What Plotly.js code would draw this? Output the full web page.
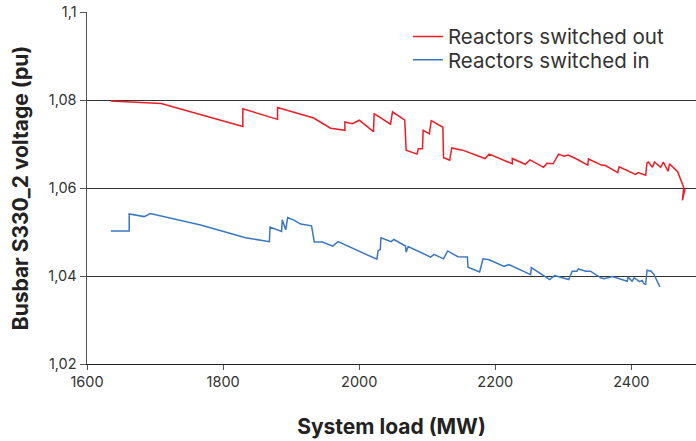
<!DOCTYPE html>
<html>
<head>
<meta charset="utf-8">
<script src="https://cdn.plot.ly/plotly-3.0.1.min.js"></script>
<style>html,body{margin:0;padding:0;background:#fff;}#chart{width:696px;height:441px;}</style>
</head>
<body>
<div id="chart"></div>
<script>
const outLoad = [1635,1709,1829,1829,1880,1880,1933,1958,1979,1979,1990,2000,2021,2022,2046,2049,2067,2069,2085,2087,2093,2094,2103,2106,2123,2124,2133,2136,2152,2185,2191,2225,2225,2244,2251,2271,2276,2285,2293,2301,2307,2318,2336,2337,2356,2362,2380,2382,2406,2410,2421,2423,2425,2431,2434,2443,2447,2454,2456,2468,2477,2475,2479];
const outVolt = [1.0798,1.0792,1.0740,1.0780,1.0756,1.0783,1.0759,1.0736,1.0731,1.0750,1.0746,1.0754,1.0728,1.0769,1.0745,1.0773,1.0754,1.0686,1.0677,1.0689,1.0689,1.0731,1.0723,1.0753,1.0738,1.0669,1.0663,1.0691,1.0686,1.0667,1.0677,1.0655,1.0667,1.0654,1.0664,1.0647,1.0656,1.0655,1.0677,1.0672,1.0675,1.0667,1.0652,1.0666,1.0652,1.0651,1.0635,1.0648,1.0631,1.0635,1.0629,1.0657,1.0659,1.0647,1.0659,1.0647,1.0659,1.0638,1.0655,1.0637,1.0601,1.0572,1.0599];
const inLoad = [1635,1662,1662,1684,1693,1719,1767,1833,1851,1868,1869,1886,1887,1892,1895,1904,1914,1930,1934,1946,1961,1969,2026,2028,2031,2032,2047,2051,2068,2069,2072,2105,2110,2124,2130,2145,2159,2160,2177,2182,2191,2213,2220,2237,2252,2253,2280,2287,2308,2313,2320,2322,2333,2340,2355,2360,2372,2394,2395,2401,2404,2412,2416,2418,2421,2423,2429,2433,2442];
const inVolt = [1.0502,1.0502,1.0541,1.0535,1.0542,1.0533,1.0516,1.0487,1.0482,1.0478,1.0511,1.0501,1.0528,1.0505,1.0533,1.0527,1.0518,1.0514,1.0477,1.0477,1.0468,1.0478,1.0438,1.0458,1.0460,1.0487,1.0478,1.0483,1.0468,1.0454,1.0467,1.0443,1.0449,1.0439,1.0457,1.0444,1.0443,1.0420,1.0409,1.0439,1.0437,1.0422,1.0426,1.0414,1.0403,1.0419,1.0392,1.0401,1.0392,1.0411,1.0411,1.0416,1.0411,1.0411,1.0396,1.0394,1.0399,1.0388,1.0398,1.0388,1.0396,1.0387,1.0390,1.0383,1.0381,1.0413,1.0411,1.0404,1.0375];
const seriesNames = ['Reactors switched out', 'Reactors switched in'];
const yTickVals = [1.02, 1.04, 1.06, 1.08, 1.1];
const yTickText = ['1,02', '1,04', '1,06', '1,08', '1,1'];
const xTickVals = [1600, 1800, 2000, 2200, 2400];
const xTickText = ['1600', '1800', '2000', '2200', '2400'];

const traces = [
  {x: outLoad, y: outVolt, name: seriesNames[0], type: 'scatter', mode: 'lines',
   line: {color: '#ee1c25', width: 1.5}, legend: 'legend'},
  {x: inLoad, y: inVolt, name: seriesNames[1], type: 'scatter', mode: 'lines',
   line: {color: '#3a77c2', width: 1.5}, legend: 'legend2'}
];

const legendBase = {x: 0.527, xanchor: 'left', yanchor: 'middle', bgcolor: 'rgba(0,0,0,0)',
                    font: {size: 20.5, color: '#333'}, itemwidth: 30};

const layout = {
  width: 696, height: 441,
  margin: {l: 87, r: 0, t: 12, b: 77},
  paper_bgcolor: '#fff', plot_bgcolor: '#fff',
  font: {family: 'Inter, "Noto Sans", sans-serif', color: '#333', size: 14},
  separators: ', ',
  showlegend: true,
  legend: Object.assign({}, legendBase, {y: 0.930}),
  legend2: Object.assign({}, legendBase, {y: 0.864}),
  xaxis: {
    range: [1600, 2495], tickvals: xTickVals, ticktext: xTickText,
    showgrid: false, zeroline: false, showline: true, linecolor: '#222', linewidth: 1,
    ticks: 'outside', ticklen: 5, tickcolor: '#555', tickfont: {size: 14.5, color: '#333'},
    title: {text: '<b>System load (MW)</b>', font: {size: 21, color: '#222'}, standoff: 29}
  },
  yaxis: {
    range: [1.02, 1.1], tickvals: yTickVals, ticktext: yTickText,
    showgrid: true, gridcolor: '#333', gridwidth: 1, zeroline: false,
    showline: true, linecolor: '#555', linewidth: 1.5,
    ticks: 'outside', ticklen: 6, tickcolor: '#555', tickfont: {size: 14.5, color: '#333'},
    title: {text: '<b>Busbar S330_2 voltage (pu)</b>', font: {size: 21, color: '#222'}, standoff: 14}
  }
};

Plotly.newPlot('chart', traces, layout, {displayModeBar: false, staticPlot: true});
</script>
</body>
</html>
